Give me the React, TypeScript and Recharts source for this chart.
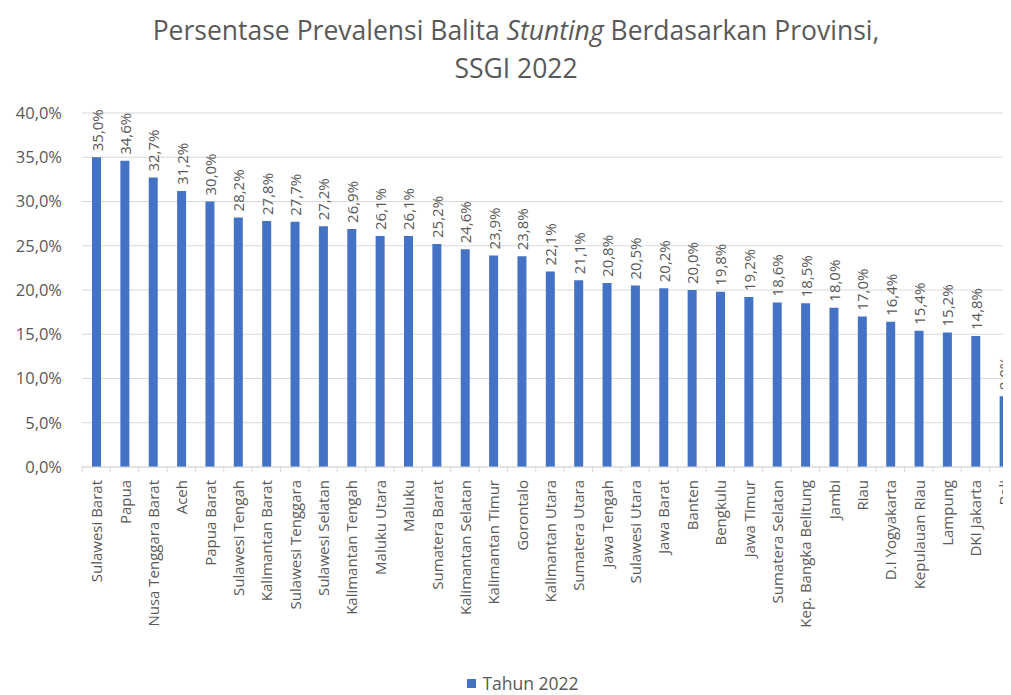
import React from "react";
import { BarChart, Bar, XAxis, YAxis, CartesianGrid, Legend, LabelList } from "recharts";

const provinces = [
  "Sulawesi Barat", "Papua", "Nusa Tenggara Barat", "Aceh", "Papua Barat",
  "Sulawesi Tengah", "Kalimantan Barat", "Sulawesi Tenggara", "Sulawesi Selatan",
  "Kalimantan Tengah", "Maluku Utara", "Maluku", "Sumatera Barat", "Kalimantan Selatan",
  "Kalimantan Timur", "Gorontalo", "Kalimantan Utara", "Sumatera Utara", "Jawa Tengah",
  "Sulawesi Utara", "Jawa Barat", "Banten", "Bengkulu", "Jawa Timur", "Sumatera Selatan",
  "Kep. Bangka Belitung", "Jambi", "Riau", "D.I Yogyakarta", "Kepulauan Riau",
  "Lampung", "DKI Jakarta", "Bali",
];

const tahun2022 = [
  35.0, 34.6, 32.7, 31.2, 30.0, 28.2, 27.8, 27.7, 27.2, 26.9, 26.1, 26.1, 25.2, 24.6,
  23.9, 23.8, 22.1, 21.1, 20.8, 20.5, 20.2, 20.0, 19.8, 19.2, 18.6, 18.5, 18.0, 17.0,
  16.4, 15.4, 15.2, 14.8, 8.0,
];

const yTicks = [0, 5, 10, 15, 20, 25, 30, 35, 40];

const data = provinces.map((name, i) => ({ name, value: tahun2022[i] }));

const pct = (v: number) => `${v.toFixed(1).replace(".", ",")}%`;

const FONT = "'Open Sans', sans-serif";
const GREY = "#595959";
const BLUE = "#4472C4";
const BAND = 28.35;

const XTick = (props: any) => {
  const { x, y, payload } = props;
  return (
    <g>
      <line x1={x - BAND / 2} y1={y - 9} x2={x - BAND / 2} y2={y - 3} stroke="#d9d9d9" />
      <text
        x={x}
        y={y + 5}
        transform={`rotate(-90, ${x}, ${y + 5})`}
        textAnchor="end"
        dominantBaseline="central"
        fill={GREY}
        fontSize={15}
        fontFamily={FONT}
      >
        {payload.value}
      </text>
    </g>
  );
};

const BarLabel = (props: any) => {
  const { x, y, width, value } = props;
  const cx = x + width / 2;
  const cy = y - 6;
  return (
    <text
      x={cx}
      y={cy}
      transform={`rotate(-90, ${cx}, ${cy})`}
      textAnchor="start"
      dominantBaseline="central"
      fill={GREY}
      fontSize={15}
      fontFamily={FONT}
    >
      {pct(value)}
    </text>
  );
};

const LegendContent = () => (
  <div style={{ display: "flex", justifyContent: "center", alignItems: "center", fontFamily: FONT, fontSize: 17.5, lineHeight: "20px", color: GREY, paddingLeft: 20 }}>
    <span style={{ width: 9, height: 9, background: BLUE, display: "inline-block", marginRight: 6 }} />
    <span>Tahun 2022</span>
  </div>
);

export default function App() {
  return (
    <div style={{ position: "relative", width: 1003, height: 687, overflow: "hidden", background: "#fff" }}>
      <div
        style={{
          position: "absolute",
          left: 0,
          top: 3,
          width: 1016,
          textAlign: "center",
          fontFamily: FONT,
          fontSize: 26.5,
          lineHeight: "38px",
          color: GREY,
          zIndex: 1,
        }}
      >
        Persentase Prevalensi Balita <i>Stunting</i> Berdasarkan Provinsi,
        <br />
        SSGI 2022
      </div>
      <BarChart
        width={1015}
        height={695}
        data={data}
        margin={{ top: 105, right: 5, left: 0, bottom: 10 }}
      >
        <CartesianGrid vertical={false} stroke="#d9d9d9" />
        <XAxis
          dataKey="name"
          interval={0}
          tick={<XTick />}
          tickLine={false}
          axisLine={{ stroke: "#d9d9d9" }}
          height={206}
        />
        <YAxis
          domain={[0, 40]}
          ticks={yTicks}
          tickFormatter={pct}
          width={74}
          axisLine={false}
          tickLine={false}
          tick={{ fill: GREY, fontSize: 16.5, fontFamily: FONT }}
          tickMargin={14}
        />
        <Legend verticalAlign="bottom" height={20} content={<LegendContent />} />
        <Bar dataKey="value" name="Tahun 2022" fill={BLUE} barSize={9} isAnimationActive={false}>
          <LabelList dataKey="value" content={<BarLabel />} />
        </Bar>
      </BarChart>
    </div>
  );
}
